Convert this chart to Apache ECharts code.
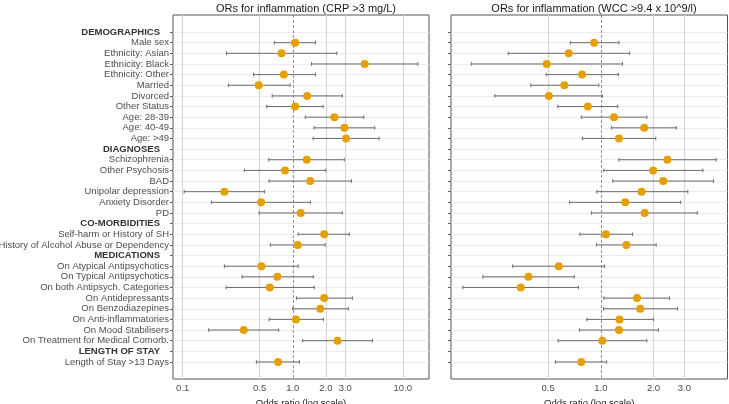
<!DOCTYPE html>
<html><head><meta charset="utf-8">
<script src="https://cdn.jsdelivr.net/npm/echarts@6/dist/echarts.min.js"></script>
<style>html,body{margin:0;padding:0;background:#fff}#c{width:729px;height:404px}</style>
</head><body><div id="c"></div>
<script>
// ---- data ----
const rowLabels = [
  'DEMOGRAPHICS','Male sex','Ethnicity: Asian','Ethnicity: Black','Ethnicity: Other','Married','Divorced','Other Status',
  'Age: 28-39','Age: 40-49','Age: >49',
  'DIAGNOSES','Schizophrenia','Other Psychosis','BAD','Unipolar depression','Anxiety Disorder','PD',
  'CO-MORBIDITIES','Self-harm or History of SH','History of Alcohol Abuse or Dependency',
  'MEDICATIONS','On Atypical Antipsychotics','On Typical Antipsychotics','On both Antipsych. Categories',
  'On Antidepressants','On Benzodiazepines','On Anti-inflammatories','On Mood Stabilisers','On Treatment for Medical Comorb.',
  'LENGTH OF STAY','Length of Stay >13 Days'
];
const headerRows = ['DEMOGRAPHICS','DIAGNOSES','CO-MORBIDITIES','MEDICATIONS','LENGTH OF STAY'];

// CRP > 3 mg/L  (null for header rows)
const crpOR = [null,1.05,0.79,4.51,0.83,0.49,1.35,1.05,2.39,2.95,3.05,
  null,1.34,0.85,1.44,0.239,0.515,1.18,
  null,1.93,1.11,
  null,0.519,0.725,0.618,1.93,1.78,1.07,0.359,2.55,
  null,0.735];
const crpLo = [null,0.68,0.25,1.48,0.44,0.26,0.65,0.58,1.30,1.56,1.53,
  null,0.605,0.363,0.61,0.103,0.182,0.494,
  null,1.12,0.626,
  null,0.239,0.346,0.248,1.08,1.0,0.61,0.172,1.23,
  null,0.467];
const crpHi = [null,1.61,2.51,13.7,1.61,0.945,2.82,1.89,4.42,5.56,6.09,
  null,2.94,2.0,3.41,0.552,1.45,2.82,
  null,3.27,1.97,
  null,1.12,1.54,1.57,3.48,3.2,1.9,0.746,5.3,
  null,1.15];

// WCC > 9.4 x 10^9/l
const wccOR = [null,0.916,0.656,0.491,0.782,0.619,0.505,0.843,1.19,1.77,1.27,
  null,2.40,1.99,2.27,1.71,1.38,1.78,
  null,1.07,1.40,
  null,0.575,0.386,0.349,1.61,1.68,1.28,1.27,1.02,
  null,0.774];
const wccLo = [null,0.67,0.296,0.182,0.487,0.398,0.248,0.568,0.774,1.15,0.785,
  null,1.27,1.04,1.17,0.949,0.662,0.884,
  null,0.759,0.944,
  null,0.314,0.212,0.163,1.04,1.035,0.832,0.755,0.57,
  null,0.551];
const wccHi = [null,1.27,1.46,1.33,1.26,0.974,1.02,1.25,1.83,2.70,2.06,
  null,4.56,3.83,4.40,3.14,2.86,3.56,
  null,1.52,2.07,
  null,1.05,0.706,0.745,2.47,2.74,2.0,2.13,1.83,
  null,1.08];

const crpTicks = [0.1, 0.5, 1, 2, 3, 10];
const wccTicks = [0.5, 1, 2, 3];
const titles = ['ORs for inflammation (CRP >3 mg/L)', 'ORs for inflammation (WCC >9.4 x 10^9/l)'];
const xTitle = 'Odds ratio (log scale)';

// ---- build ----
const FONT = 'Liberation Sans, Arial, Helvetica, sans-serif';
const rowIdx = rowLabels.map((_, i) => i + 1);

function barData(lo, hi) {
  const out = [];
  lo.forEach((v, i) => { if (v != null) out.push([v, hi[i], i + 1]); });
  return out;
}
function ptData(or) {
  const out = [];
  or.forEach((v, i) => { if (v != null) out.push([v, i + 1]); });
  return out;
}
function renderBar(params, api) {
  const y = api.value(2);
  const p1 = api.coord([api.value(0), y]);
  const p2 = api.coord([api.value(1), y]);
  const h = 1.8;
  const st = { stroke: '#6b6b6b', lineWidth: 1 };
  return { type: 'group', children: [
    { type: 'line', shape: { x1: p1[0], y1: p1[1], x2: p2[0], y2: p2[1] }, style: st },
    { type: 'line', shape: { x1: p1[0], y1: p1[1] - h, x2: p1[0], y2: p1[1] + h }, style: st },
    { type: 'line', shape: { x1: p2[0], y1: p2[1] - h, x2: p2[0], y2: p2[1] + h }, style: st }
  ]};
}

function xAxisDef(gi, mn, mx, ticks) {
  return {
    gridIndex: gi, type: 'log', logBase: 10, min: mn, max: mx,
    name: xTitle, nameLocation: 'middle', nameGap: 9,
    nameTextStyle: { fontFamily: FONT, fontSize: 9.5, color: '#1a1a1a' },
    axisLine: { show: false },
    axisTick: { show: false },
    axisLabel: { show: true, customValues: ticks, margin: 4, fontFamily: FONT, fontSize: 9.5, color: '#4d4d4d',
      formatter: v => Number(v).toFixed(1) },
    splitLine: { show: false },
    minorSplitLine: { show: false }
  };
}
function yAxisDef(gi, showLabels) {
  return {
    gridIndex: gi, type: 'value', inverse: true, min: -0.6, max: 33.6,
    axisLine: { show: false },
    axisTick: { show: true, length: 3, customValues: rowIdx, lineStyle: { color: '#333', width: 0.8 } },
    axisLabel: { show: showLabels, customValues: rowIdx, margin: 4, fontFamily: FONT, fontSize: 9.5, color: '#4d4d4d',
      formatter: v => {
        const l = rowLabels[Math.round(v) - 1];
        if (l === undefined) return '';
        return headerRows.includes(l) ? '{h|' + l + '}' : '{n|' + l + '}';
      },
      rich: {
        h: { fontFamily: FONT, fontSize: 9.5, fontWeight: 'bold', color: '#333', padding: [0, 9, 0, 0] },
        n: { fontFamily: FONT, fontSize: 9.5, color: '#4d4d4d' }
      }
    },
    splitLine: { show: true, lineStyle: { color: '#ebebeb', width: 1 } }
  };
}
function seriesFor(gi, or, lo, hi, ticks) {
  const grid = ticks.filter(t => t !== 1).map(t => ({
    xAxis: t, lineStyle: { color: '#d6d6d6', type: 'solid', width: 1.2 }
  }));
  grid.push({ xAxis: 1, lineStyle: { color: '#666', type: [3, 2], width: 0.7 } });
  return [
    { type: 'scatter', xAxisIndex: gi, yAxisIndex: gi, data: [], silent: true, z: 2,
      markLine: { silent: true, z: 2, symbol: ['none', 'none'], label: { show: false }, precision: 4,
        data: grid } },
    { type: 'custom', xAxisIndex: gi, yAxisIndex: gi, renderItem: renderBar, data: barData(lo, hi),
      encode: { x: [0, 1], y: 2 }, z: 3, silent: true },
    { type: 'scatter', xAxisIndex: gi, yAxisIndex: gi, data: ptData(or), symbol: 'circle', symbolSize: 8,
      itemStyle: { color: '#E69F00', opacity: 1 }, z: 4, silent: true }
  ];
}

const chart = echarts.init(document.getElementById('c'), null, { renderer: 'canvas' });
chart.setOption({
  animation: false,
  backgroundColor: '#fff',
  textStyle: { fontFamily: FONT },
  title: [
    { text: titles[0], left: 301, top: -2, textAlign: 'center',
      textStyle: { fontFamily: FONT, fontSize: 11, fontWeight: 'normal', color: '#1a1a1a' } },
    { text: titles[1], left: 589, top: -2, textAlign: 'center',
      textStyle: { fontFamily: FONT, fontSize: 11, fontWeight: 'normal', color: '#1a1a1a' } }
  ],
  grid: [
    { left: 173, width: 256, top: 15, height: 364, show: true, borderColor: '#555', borderWidth: 1,
      backgroundColor: 'transparent', outerBoundsMode: 'none', containLabel: false },
    { left: 451, width: 276.5, top: 15, height: 364, show: true, borderColor: '#555', borderWidth: 1,
      backgroundColor: 'transparent', outerBoundsMode: 'none', containLabel: false }
  ],
  xAxis: [ xAxisDef(0, 0.0816, 17.3, crpTicks), xAxisDef(1, 0.1395, 5.29, wccTicks) ],
  yAxis: [ yAxisDef(0, true), yAxisDef(1, false) ],
  series: [ ...seriesFor(0, crpOR, crpLo, crpHi, crpTicks), ...seriesFor(1, wccOR, wccLo, wccHi, wccTicks) ]
});
</script>
</body></html>
